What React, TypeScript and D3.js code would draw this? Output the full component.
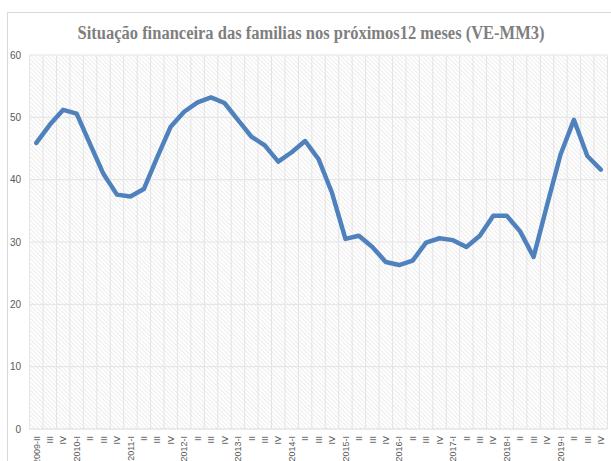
import React from "react";
import * as d3 from "d3";

const years = ["2009", "2010", "2011", "2012", "2013", "2014", "2015", "2016", "2017", "2018", "2019"];
const quarters = ["I", "II", "III", "IV"];
const categories: string[] = [];
years.forEach((y, yi) => {
  quarters.forEach((q, qi) => {
    if (yi === 0 && qi === 0) return;
    categories.push(qi === 0 || (yi === 0 && qi === 1) ? `${y}-${q}` : q);
  });
});

const values = [
  45.9, 48.8, 51.2, 50.6, 45.7, 40.9, 37.6, 37.3, 38.5, 43.6,
  48.5, 50.9, 52.4, 53.2, 52.3, 49.6, 46.9, 45.5, 42.9, 44.4,
  46.2, 43.3, 37.9, 30.5, 31.0, 29.2, 26.8, 26.3, 27.0, 29.9,
  30.6, 30.3, 29.2, 31.0, 34.2, 34.2, 31.7, 27.6, 35.9, 44.0,
  49.6, 43.8, 41.6,
];

const yTicks = [0, 10, 20, 30, 40, 50, 60];
const title = "Situação financeira das familias nos próximos12 meses (VE-MM3)";

export default function App() {
  const W = 611, H = 461;
  const left = 29.6, right = 607.5, top = 55, bottom = 429;
  const x = d3.scaleBand<string>().domain(categories.map((c, i) => `${i}`)).range([left, right]).padding(0);
  const y = d3.scaleLinear().domain([0, 60]).range([bottom, top]);
  const cx = (i: number) => (x(`${i}`) as number) + x.bandwidth() / 2;
  const line = d3.line<number>().x((_, i) => cx(i)).y((d) => y(d));
  const bounds = d3.range(categories.length + 1).map((i) => left + i * x.bandwidth());

  return (
    <svg width={W} height={H} style={{ position: "absolute", left: 0, top: 0, background: "#fff" }}>
      <defs>
        <pattern id="hatch" width="3" height="3" patternUnits="userSpaceOnUse" patternTransform="rotate(-45)">
          <rect width="3" height="3" fill="#ffffff" />
          <line x1="0" y1="0" x2="0" y2="3" stroke="#dcdcdc" strokeWidth="1" />
        </pattern>
      </defs>
      <rect x={7.5} y={12.5} width={W + 10} height={H + 10} fill="#fff" stroke="#d9d9d9" />
      <text
        x={311}
        y={39}
        textAnchor="middle"
        fontFamily="'Liberation Serif', serif"
        fontWeight="bold"
        fontSize={18}
        fill="#7f7f7f"
        textLength={467}
        lengthAdjust="spacingAndGlyphs"
      >
        {title}
      </text>
      <rect x={left} y={top} width={right - left} height={bottom - top} fill="url(#hatch)" />
      {bounds.map((bx, i) => (
        <line key={`v${i}`} x1={bx} x2={bx} y1={top} y2={bottom} stroke="#e4e4e4" strokeWidth={1} />
      ))}
      {yTicks.map((t) => (
        <g key={`y${t}`}>
          <line x1={left} x2={right} y1={y(t)} y2={y(t)} stroke={t === 0 ? "#d9d9d9" : "#e6e6e6"} strokeWidth={1.2} />
          <text
            x={21}
            y={y(t)}
            dy="0.35em"
            textAnchor="end"
            fontFamily="'Liberation Sans', Arial, sans-serif"
            fontSize={10}
            fill="#595959"
          >
            {t}
          </text>
        </g>
      ))}
      {categories.map((c, i) => (
        <text
          key={`x${i}`}
          transform={`translate(${cx(i) + 3.2},${436}) rotate(-90)`}
          textAnchor="end"
          fontFamily="'Liberation Sans', Arial, sans-serif"
          fontSize={9}
          fill="#595959"
        >
          {c}
        </text>
      ))}
      <path d={line(values) || ""} fill="none" stroke="#4f81bd" strokeWidth={4.5} strokeLinejoin="round" strokeLinecap="round" />
    </svg>
  );
}
